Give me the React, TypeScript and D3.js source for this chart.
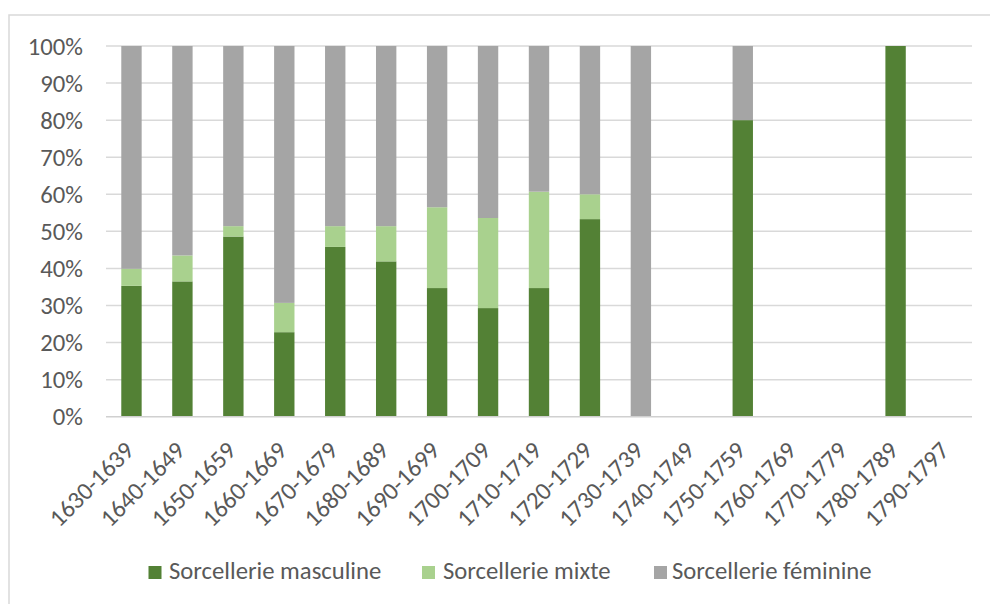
import React from "react";
import * as d3 from "d3";

const categories = [
  "1630-1639", "1640-1649", "1650-1659", "1660-1669", "1670-1679", "1680-1689",
  "1690-1699", "1700-1709", "1710-1719", "1720-1729", "1730-1739", "1740-1749",
  "1750-1759", "1760-1769", "1770-1779", "1780-1789", "1790-1797",
];
const masculine = [35.3, 36.5, 48.6, 22.8, 45.8, 41.9, 34.7, 29.3, 34.7, 53.3, 0, 0, 80, 0, 0, 100, 0];
const mixte = [4.6, 7.0, 2.8, 7.9, 5.6, 9.5, 21.8, 24.3, 26.0, 6.7, 0, 0, 0, 0, 0, 0, 0];
const feminine = [60.1, 56.5, 48.6, 69.3, 48.6, 48.6, 43.5, 46.4, 39.3, 40.0, 100, 0, 20, 0, 0, 0, 0];
const seriesNames = ["Sorcellerie masculine", "Sorcellerie mixte", "Sorcellerie féminine"];
const seriesKeys = ["masculine", "mixte", "feminine"];
const colors = ["#538135", "#A9D18E", "#A5A5A5"];
const yTicks = [0, 10, 20, 30, 40, 50, 60, 70, 80, 90, 100];

const FONT = "Carlito, Calibri, Lato, 'Open Sans', sans-serif";
const TEXT = "#595959";

export default function App() {
  const W = 990, H = 604;
  const left = 106, right = 972, top = 46, bottom = 416.7;

  const rows = categories.map((c, i) => ({
    cat: c,
    masculine: masculine[i],
    mixte: mixte[i],
    feminine: feminine[i],
  }));
  const stacked = d3.stack<any>().keys(seriesKeys)(rows);

  const x = d3.scaleBand<string>().domain(categories).range([left, right]).paddingInner(0.6).paddingOuter(0.3);
  const y = d3.scaleLinear().domain([0, 100]).range([bottom, top]);

  const legendItems = [
    { sq: 148.5, tx: 169 },
    { sq: 422, tx: 443 },
    { sq: 654, tx: 672 },
  ];
  const FS = 24.7;

  return (
    <svg width={W} height={H} style={{ position: "absolute", left: 0, top: 0, background: "#fff" }} fontFamily={FONT}>
      <rect x={0} y={0} width={W} height={H} fill="#fff" />
      <rect x={9} y={15} width={1000} height={620} fill="#fff" stroke="#d9d9d9" strokeWidth={1.5} />
      {yTicks.filter((t) => t > 0).map((t) => (
        <line key={t} x1={left} x2={right} y1={y(t)} y2={y(t)} stroke="#d9d9d9" strokeWidth={1.5} />
      ))}
      {stacked.map((s, si) => (
        <g key={si} fill={colors[si]}>
          {s.map((d, i) => {
            const h = y(d[0]) - y(d[1]);
            if (h <= 0) return null;
            return (
              <rect key={i} x={x(categories[i])!} width={x.bandwidth()} y={y(d[1])} height={h} />
            );
          })}
        </g>
      ))}
      <line x1={left} x2={right} y1={y(0)} y2={y(0)} stroke="#d0d0d0" strokeWidth={1.5} />
      {yTicks.map((t) => (
        <text key={t} x={83} y={y(t)} dy="0.35em" textAnchor="end" fontSize={FS} fill={TEXT}>
          {t + "%"}
        </text>
      ))}
      {categories.map((c) => {
        const cx = x(c)! + x.bandwidth() / 2;
        return (
          <text key={c} transform={`translate(${cx + 4},${452}) rotate(-45)`} textAnchor="end" fontSize={FS} fill={TEXT}>
            {c}
          </text>
        );
      })}
      {seriesNames.map((n, i) => (
        <g key={n}>
          <rect x={legendItems[i].sq} y={566} width={13} height={13} fill={colors[i]} />
          <text x={legendItems[i].tx} y={579} fontSize={FS} fill={TEXT}>
            {n}
          </text>
        </g>
      ))}
    </svg>
  );
}
